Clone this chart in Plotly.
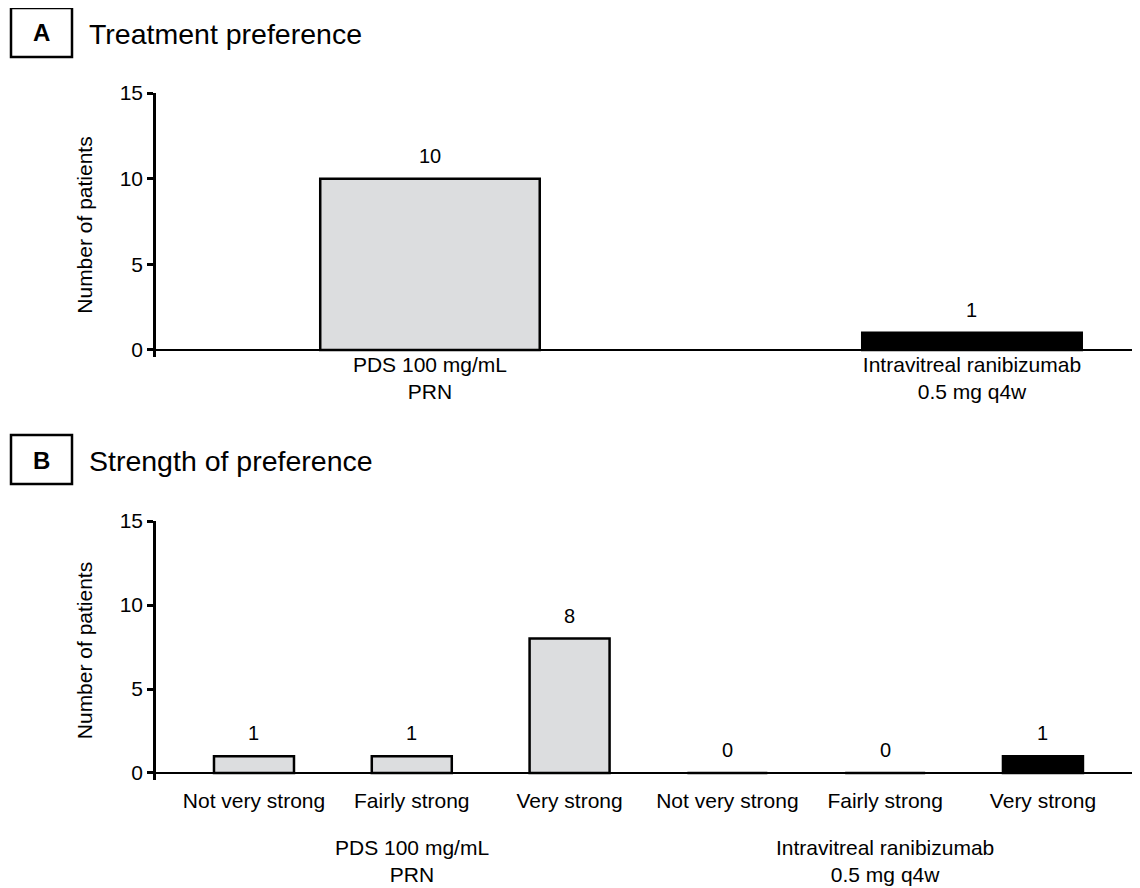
import plotly.graph_objects as go

FONT = "Liberation Sans, Arial, Helvetica, sans-serif"
W, H = 1140, 888
OFF = 8  # page body margin in the browser

# ---------------- data ----------------
panel_letters = ["A", "B"]
panel_titles = ["Treatment preference", "Strength of preference"]
y_title = "Number of patients"
y_ticks = [0, 5, 10, 15]

treatments = ["PDS 100 mg/mL<br>PRN", "Intravitreal ranibizumab<br>0.5 mg q4w"]
a_values = [10, 1]

b_treatment = [treatments[0]] * 3 + [treatments[1]] * 3
b_strength = ["Not very strong", "Fairly strong", "Very strong",
              "Not very strong", "Fairly strong", "Very strong"]
b_values = [1, 1, 8, 0, 0, 1]

# ---------------- styles ----------------
treatment_colors = {treatments[0]: "#dcdddf", treatments[1]: "#000000"}
BLACK = "#000000"


def fx(p):
    return (p - OFF) / W


def fy(p):
    return 1 - (p - OFF) / H


fig = go.Figure()

# Panel A bars
a_x = list(range(len(treatments)))
fig.add_trace(go.Bar(
    x=a_x, y=a_values, width=0.405,
    marker=dict(color=[treatment_colors[t] for t in treatments],
                line=dict(color=BLACK, width=2.5)),
    xaxis="x", yaxis="y", showlegend=False, hoverinfo="skip"))

# Panel B bars
b_x = list(range(len(b_values)))
fig.add_trace(go.Bar(
    x=b_x, y=b_values, width=0.507,
    marker=dict(color=[treatment_colors[t] for t in b_treatment],
                line=dict(color=BLACK, width=2.5)),
    xaxis="x2", yaxis="y2", showlegend=False, hoverinfo="skip"))

tickfont = dict(family=FONT, size=21, color=BLACK)

common_y = dict(
    tickvals=y_ticks, ticks="outside", ticklen=6, tickwidth=2.5, tickcolor=BLACK,
    showline=True, linewidth=2.5, linecolor=BLACK, showgrid=False,
    zeroline=True, zerolinecolor=BLACK, zerolinewidth=2,
    tickfont=tickfont, automargin=False,
    title=dict(text=y_title, font=dict(family=FONT, size=21, color=BLACK), standoff=22),
)
common_x = dict(
    ticks="", showline=False, showgrid=False, zeroline=False,
    tickfont=tickfont, automargin=False,
)

fig.update_layout(
    width=W, height=H,
    margin=dict(l=0, r=0, t=0, b=0),
    paper_bgcolor="white", plot_bgcolor="white",
    font=dict(family=FONT, color=BLACK),
    xaxis=dict(domain=[fx(156), fx(1140)], range=[-0.5055, 1.31], anchor="y",
               tickvals=a_x, ticktext=treatments, ticklabelstandoff=-7, **common_x),
    yaxis=dict(domain=[fy(357), fy(93)], range=[-0.41, 15], anchor="x", **common_y),
    xaxis2=dict(domain=[fx(156), fx(1140)], range=[-0.621, 5.615], anchor="y2",
                tickvals=b_x, ticktext=b_strength, ticklabelstandoff=6, **common_x),
    yaxis2=dict(domain=[fy(780), fy(521)], range=[-0.417, 15], anchor="x2", **common_y),
)

annotations = []
shapes = []

# Value labels above bars
for xi, v in zip(a_x, a_values):
    annotations.append(dict(x=xi, y=v, xref="x", yref="y", text=str(v),
                            showarrow=False, yanchor="bottom", yshift=10,
                            font=dict(family=FONT, size=20, color=BLACK)))
for xi, v in zip(b_x, b_values):
    annotations.append(dict(x=xi, y=v, xref="x2", yref="y2", text=str(v),
                            showarrow=False, yanchor="bottom", yshift=10,
                            font=dict(family=FONT, size=20, color=BLACK)))

# Group labels for panel B
for t in treatments:
    idx = [i for i, g in enumerate(b_treatment) if g == t]
    annotations.append(dict(x=sum(idx) / len(idx), y=fy(834), xref="x2", yref="paper",
                            text=t, showarrow=False, yanchor="top",
                            font=dict(family=FONT, size=21, color=BLACK)))

# Panel letters + titles
panel_tops = [8, 435]
for letter, title, top in zip(panel_letters, panel_titles, panel_tops):
    shapes.append(dict(type="rect", xref="paper", yref="paper",
                       x0=fx(11), x1=fx(72), y0=fy(top), y1=fy(top + 49),
                       line=dict(color=BLACK, width=2.5), fillcolor="white"))
    annotations.append(dict(x=fx(41.5), y=fy(top + 25), xref="paper", yref="paper",
                            text="<b>%s</b>" % letter, showarrow=False,
                            xanchor="center", yanchor="middle",
                            font=dict(family=FONT, size=24, color=BLACK)))
    annotations.append(dict(x=fx(87), y=fy(top + 26), xref="paper", yref="paper",
                            text=title, showarrow=False,
                            xanchor="left", yanchor="middle",
                            font=dict(family=FONT, size=28.5, color=BLACK)))

fig.update_layout(annotations=annotations, shapes=shapes)

fig.write_html("out.html")
